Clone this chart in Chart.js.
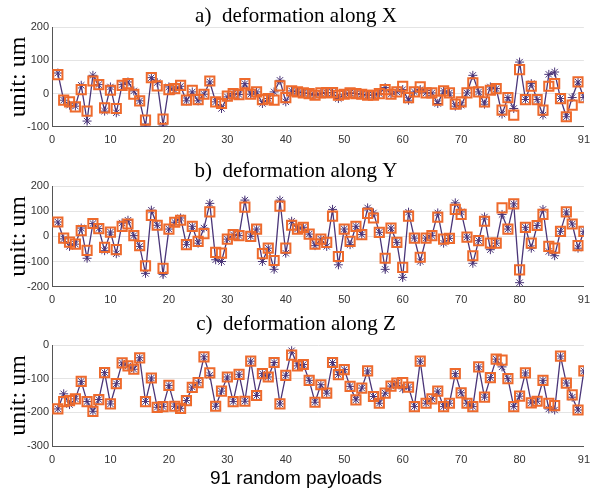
<!DOCTYPE html>
<html>
<head>
<meta charset="utf-8">
<script src="https://cdn.jsdelivr.net/npm/chart.js@4"></script>
<style>
  body { margin: 0; background: #fff; width: 597px; height: 492px; position: relative; overflow: hidden; }
  .panel { position: absolute; left: 0; width: 597px; }
</style>
</head>
<body>
<div class="panel" style="top:6px;height:143px"><canvas id="chartX"></canvas></div>
<div class="panel" style="top:161px;height:148px"><canvas id="chartY"></canvas></div>
<div class="panel" style="top:314px;height:178px"><canvas id="chartZ"></canvas></div>
<script>
// deformation along X (line with asterisks / squares)
const xLine = [62,-20,-35,-38,25,-83,55,27,-53,20,-58,27,35,8,-22,-98,48,33,-95,20,10,22,-22,5,-22,-2,35,-25,-45,-10,0,-3,30,-2,5,-30,-15,5,40,-25,8,5,2,0,-5,0,3,3,-15,-2,2,0,-2,-5,-5,0,18,-2,5,12,-20,5,12,2,2,-30,8,2,-38,-35,2,55,5,-32,20,15,-62,-12,-45,95,-18,30,-18,-65,58,65,-15,-70,-12,35,-12];
const xSquare = [57,-20,-25,-40,12,-53,38,27,-43,10,-45,25,30,-2,-22,-80,48,23,-77,12,15,25,-20,10,-18,-2,38,-25,-30,-8,0,-3,30,-2,5,-18,-15,-20,23,-12,8,5,2,0,-5,2,3,3,-5,-2,2,0,-2,-5,-5,0,12,-2,5,22,-12,5,20,2,2,-20,8,2,-32,-25,2,32,5,-25,10,15,-50,-12,-65,72,-18,22,-18,-50,22,30,-15,-70,-35,35,-12];

// deformation along Y
const yLine = [57,-10,-40,-31,33,-87,51,31,-57,17,-69,53,64,3,-40,-147,104,44,-151,29,56,73,-33,40,-27,33,131,-93,-100,-11,7,3,144,0,29,-100,-47,-131,144,-67,60,29,36,9,-37,-11,-40,107,-113,29,-33,40,7,113,93,16,-131,33,-24,-163,96,-7,-100,-7,3,93,-27,-8,133,97,-3,-107,-17,77,-53,-27,87,29,129,-184,36,-47,43,107,-60,-77,20,97,49,-47,20];
const ySquare = [57,-7,-23,-31,23,-56,51,31,-44,17,-53,40,49,3,-37,-117,83,44,-127,29,56,64,-33,40,-20,11,97,-64,-67,-11,7,3,116,0,29,-69,-47,-96,120,-47,44,29,36,9,-31,-11,-24,80,-80,29,-20,40,7,91,73,16,-87,33,-24,-123,80,-7,-83,-7,3,76,-11,-8,107,87,-3,-77,-17,60,-27,-27,113,29,129,-133,36,-27,43,87,-40,-47,20,97,49,-37,20];

// deformation along Z
const zLine = [-190,-145,-177,-160,-108,-168,-197,-162,-82,-175,-115,-53,-62,-72,-38,-168,-98,-185,-183,-120,-182,-188,-165,-125,-112,-35,-90,-182,-137,-95,-168,-87,-167,-48,-150,-85,-95,-52,-175,-90,-17,-62,-58,-105,-170,-118,-143,-52,-88,-73,-123,-163,-128,-77,-153,-173,-143,-122,-113,-130,-125,-183,-48,-173,-160,-137,-183,-173,-85,-142,-173,-183,-65,-155,-97,-42,-65,-100,-183,-152,-83,-172,-167,-105,-190,-193,-33,-113,-155,-193,-77];
const zSquare = [-190,-168,-165,-160,-108,-168,-197,-162,-82,-175,-115,-53,-62,-72,-38,-168,-98,-185,-183,-120,-182,-188,-165,-126,-112,-35,-83,-182,-137,-95,-168,-87,-167,-48,-150,-85,-95,-52,-175,-90,-30,-62,-58,-105,-170,-118,-143,-52,-88,-73,-123,-163,-128,-77,-153,-173,-143,-122,-113,-112,-125,-183,-48,-173,-160,-137,-183,-173,-85,-142,-173,-183,-65,-155,-97,-42,-45,-100,-183,-152,-83,-172,-167,-105,-173,-180,-33,-113,-148,-193,-77];

const purple = '#4a3578';
const orange = '#ee6a2c';
const tickFont = { family: 'Liberation Sans', size: 11 };

function pts(arr) {
  return arr.map((v, i) => ({ x: i + 1, y: v }));
}

function makeChart(id, title, titleGap, line, squares, yMin, yMax, xAxisH, bottomText) {
  new Chart(document.getElementById(id), {
    type: 'line',
    data: {
      datasets: [{
        data: pts(squares),
        showLine: false,
        pointStyle: 'rect',
        pointRadius: 6.5,
        pointBorderWidth: 2,
        pointBorderColor: orange,
        pointBackgroundColor: 'rgba(0,0,0,0)',
        order: 0
      }, {
        data: pts(line),
        borderColor: purple,
        borderWidth: 1.3,
        pointStyle: 'star',
        pointRadius: 4.5,
        pointBorderWidth: 1,
        pointBorderColor: purple,
        tension: 0,
        order: 1
      }]
    },
    options: {
      responsive: true,
      maintainAspectRatio: false,
      animation: false,
      layout: { padding: { left: 0, right: 5, top: 0, bottom: 0 } },
      plugins: {
        legend: { display: false },
        tooltip: { enabled: false },
        title: {
          display: true,
          text: title,
          color: '#000',
          font: { family: 'Liberation Serif', size: 21, weight: 'normal', lineHeight: 1 },
          padding: { top: 0, bottom: titleGap }
        },
        subtitle: {
          display: !!bottomText,
          text: bottomText || '',
          position: 'bottom',
          color: '#000',
          font: { family: 'Liberation Sans', size: 19, lineHeight: 1 },
          padding: { top: 0, bottom: 4 }
        }
      },
      scales: {
        x: {
          type: 'linear',
          min: 0,
          max: 91,
          ticks: { stepSize: 10, color: '#333', font: tickFont, padding: 7, maxRotation: 0 },
          grid: { display: false, drawTicks: false },
          border: { color: '#555' },
          afterFit: s => { s.height = xAxisH; }
        },
        y: {
          min: yMin,
          max: yMax,
          ticks: { stepSize: 100, color: '#333', font: tickFont, padding: 3 },
          grid: { color: '#e4e4e4', drawTicks: false },
          border: { color: '#555' },
          title: {
            display: true,
            text: 'unit: um',
            color: '#000',
            font: { family: 'Liberation Serif', size: 24, lineHeight: 1 },
            padding: { top: 7, bottom: 0 }
          },
          afterFit: s => { s.width = 52; }
        }
      }
    }
  });
}

makeChart('chartX', 'a)  deformation along X', 0.3, xLine, xSquare, -100, 200, 22.3);
makeChart('chartY', 'b)  deformation along Y', 4, yLine, ySquare, -200, 200, 22.3);
makeChart('chartZ', 'c)  deformation along Z', 10, zLine, zSquare, -300, 0, 23, '91 random payloads');
</script>
</body>
</html>
